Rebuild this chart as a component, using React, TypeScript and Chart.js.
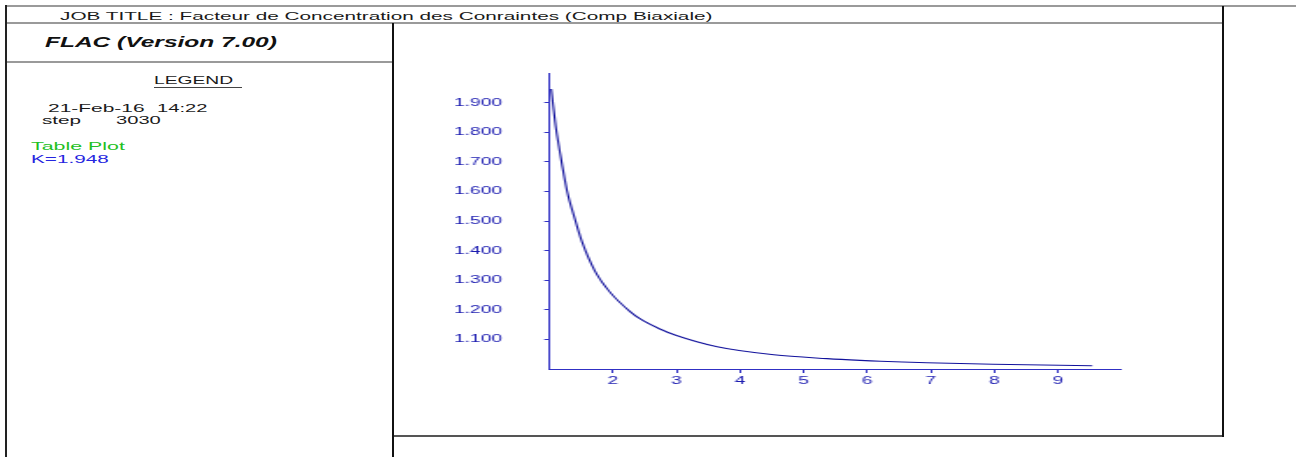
import React, { useEffect, useRef } from "react";
import { Chart, registerables } from "chart.js";

Chart.register(...registerables);

// Radius (r/a)
const radiusValues = [1.03, 1.1, 1.15, 1.28, 1.4, 1.51, 1.72, 1.96, 2.27, 2.43, 2.73, 3.0, 3.64, 4.53, 5.37, 5.89, 6.21, 6.94, 7.98, 9.54];
// Stress concentration factor
const kValues = [1.946, 1.819, 1.753, 1.6, 1.508, 1.432, 1.33, 1.258, 1.194, 1.169, 1.136, 1.113, 1.075, 1.048, 1.035, 1.029, 1.026, 1.021, 1.016, 1.011];
const xTickValues = [2, 3, 4, 5, 6, 7, 8, 9];
const yTickValues = [1.1, 1.2, 1.3, 1.4, 1.5, 1.6, 1.7, 1.8, 1.9];
const xRange = [1, 10];
const yRange = [1.0, 2.0];

const titleText = "JOB TITLE : Facteur de Concentration des Conraintes (Comp Biaxiale)";
const versionText = "FLAC (Version 7.00)";

const S = 1.75; // horizontal stretch of the original plot
const FONT = "'Liberation Sans', Arial, Helvetica, sans-serif";

// displayed geometry of the plot canvas
const CANVAS_LEFT = 394;
const CANVAS_TOP = 24;
const CANVAS_W = 829;
const CANVAS_H = 410;

function Txt(props: { x: number; y: number; size: number; sx?: number; color?: string; weight?: string; italic?: boolean; children: React.ReactNode }) {
  const { x, y, size, sx, color, weight, italic, children } = props;
  return (
    <span
      style={{
        position: "absolute",
        left: x,
        top: y - 0.13 * size,
        fontFamily: FONT,
        fontSize: size,
        lineHeight: 1,
        whiteSpace: "pre",
        color: color || "#1a1a1a",
        fontWeight: (weight as any) || "normal",
        fontStyle: italic ? "italic" : "normal",
        transform: `scaleX(${sx || S})`,
        transformOrigin: "left top",
      }}
    >
      {children}
    </span>
  );
}

function Line(props: { x: number; y: number; w: number; h: number; c: string }) {
  return <div style={{ position: "absolute", left: props.x, top: props.y, width: props.w, height: props.h, background: props.c }} />;
}

function PlotChart() {
  const ref = useRef<HTMLCanvasElement | null>(null);
  useEffect(() => {
    if (!ref.current) return;
    const axisColor = "#3030c4";
    const labelColor = "#1c1cb0";
    const chart = new Chart(ref.current, {
      type: "line",
      data: {
        datasets: [
          {
            data: radiusValues.map((r, i) => ({ x: r, y: kValues[i] })),
            borderColor: "#12129c",
            borderWidth: 1.1,
            pointRadius: 0,
            fill: false,
            cubicInterpolationMode: "monotone",
          },
        ],
      },
      options: {
        animation: false,
        responsive: true,
        maintainAspectRatio: false,
        layout: { padding: { left: 0, top: 49, right: 103 / S, bottom: 0 } },
        plugins: { legend: { display: false }, tooltip: { enabled: false }, title: { display: false } },
        scales: {
          x: {
            type: "linear",
            min: xRange[0],
            max: xRange[1],
            afterBuildTicks: (scale: any) => {
              scale.ticks = xTickValues.map((v) => ({ value: v }));
            },
            afterFit: (scale: any) => {
              scale.height = 65;
            },
            grid: { display: true, drawOnChartArea: false, drawTicks: true, tickLength: 4, color: axisColor, lineWidth: 1 },
            border: { display: true, color: axisColor, width: 1 },
            ticks: {
              color: labelColor,
              font: { family: FONT, size: 11 },
              padding: 1,
              maxRotation: 0,
              autoSkip: false,
              callback: (v: any) => String(v),
            },
          },
          y: {
            type: "linear",
            min: yRange[0],
            max: yRange[1],
            afterBuildTicks: (scale: any) => {
              scale.ticks = yTickValues.map((v) => ({ value: v }));
            },
            afterFit: (scale: any) => {
              scale.width = 155 / S;
            },
            grid: { display: true, drawOnChartArea: false, drawTicks: true, tickLength: 5 / S, color: axisColor, lineWidth: 1 },
            border: { display: true, color: axisColor, width: 1 },
            ticks: {
              color: labelColor,
              font: { family: FONT, size: 11 },
              padding: 42 / S,
              autoSkip: false,
              callback: (v: any) => Number(v).toFixed(3),
            },
          },
        },
      },
    } as any);
    return () => chart.destroy();
  }, []);
  return (
    <div style={{ position: "absolute", left: CANVAS_LEFT, top: CANVAS_TOP, width: CANVAS_W, height: CANVAS_H, overflow: "hidden" }}>
      <div
        style={{
          position: "absolute",
          left: 0,
          top: 0,
          width: CANVAS_W / S,
          height: CANVAS_H,
          transform: `scaleX(${S})`,
          transformOrigin: "left top",
        }}
      >
        <canvas ref={ref} />
      </div>
    </div>
  );
}

export default function App() {
  return (
    <div style={{ position: "fixed", left: 0, top: 0, width: 1296, height: 457, background: "#fff", overflow: "hidden" }}>
      {/* frame */}
      <Line x={6} y={5} w={1290} h={2} c="#9a9a9a" />
      <Line x={6} y={22} w={1218} h={2} c="#9a9a9a" />
      <Line x={6} y={61} w={387} h={2} c="#9a9a9a" />
      <Line x={393} y={435} w={831} h={2} c="#555" />
      <Line x={5} y={5} w={2} h={452} c="#222" />
      <Line x={392} y={23} w={2} h={434} c="#111" />
      <Line x={1222} y={6} w={2} h={431} c="#111" />

      {/* header texts */}
      <Txt x={60} y={11.7} size={11.6} sx={1.79}>{titleText}</Txt>
      <Txt x={45} y={37.3} size={14} weight="bold" italic color="#111">{versionText}</Txt>

      {/* legend */}
      <Txt x={154} y={76} size={11}>LEGEND</Txt>
      <Line x={154} y={87} w={88} h={1} c="#444" />
      <Txt x={48} y={104} size={11.5} sx={1.82}>21-Feb-16</Txt>
      <Txt x={157} y={104} size={11.5}>14:22</Txt>
      <Txt x={42} y={116} size={11.5} sx={1.8}>step</Txt>
      <Txt x={116} y={116} size={11.5}>3030</Txt>
      <Txt x={31} y={142.7} size={11.5} sx={1.86} color="#22c022">Table Plot</Txt>
      <Txt x={31} y={155} size={11.5} sx={1.8} color="#2525e0">{"K=1.948"}</Txt>

      <PlotChart />
    </div>
  );
}
